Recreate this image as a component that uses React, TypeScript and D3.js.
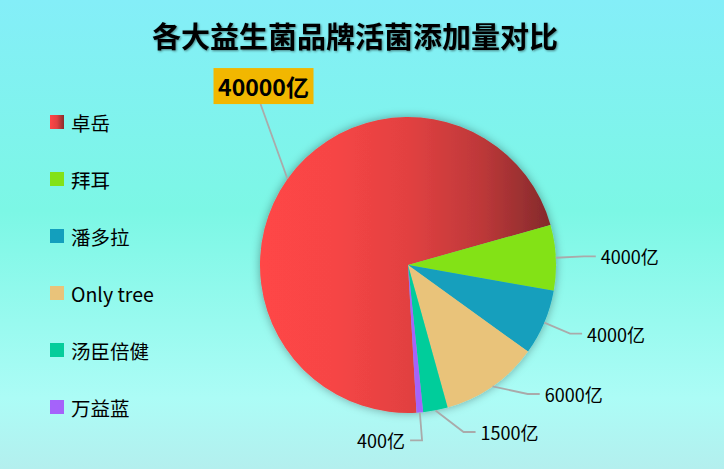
import { useEffect } from 'react';
import * as d3 from 'd3';

// chart data
const title = '各大益生菌品牌活菌添加量对比';
const brands = ['卓岳', '拜耳', '潘多拉', 'Only tree', '汤臣倍健', '万益蓝'];
const amounts = [40000, 4000, 4000, 6000, 1500, 400];
const unit = '亿';

// styling
const sliceColors = ['url(#redGrad)', '#83e217', '#139fbd', '#e9c37a', '#05cd9b', '#a563fa'];
const legendColors = ['url(#redIcon)', '#83e217', '#139fbd', '#e9c37a', '#05cd9b', '#a563fa'];
const FONT = '"Noto Sans CJK SC", "Noto Sans", sans-serif';

const W = 724;
const H = 469;
const cx = 408;
const cy = 265;
const r = 148;
const START = (176.7 * Math.PI) / 180;

export default function App() {
  useEffect(() => {
    document.body.style.margin = '0';
  }, []);

  const arcs = d3
    .pie<number>()
    .sort(null)
    .startAngle(START)
    .endAngle(START + Math.PI * 2)(amounts);

  const arcGen = d3.arc<d3.PieArcDatum<number>>().innerRadius(0).outerRadius(r);

  // label layout: radial elbow, then push right-side labels apart (like echarts)
  const R = r + 28;
  const pts = arcs.map((a, i) => {
    const mid = (a.startAngle + a.endAngle) / 2;
    const sx = Math.sin(mid);
    const cy0 = -Math.cos(mid);
    return {
      i,
      mid,
      edge: [cx + r * sx, cy + r * cy0] as [number, number],
      elbow: [cx + R * sx, cy + R * cy0] as [number, number],
      right: sx > 0.1,
    };
  });

  const rightPts = pts.filter((p) => p.right && p.i !== 0).sort((a, b) => a.elbow[1] - b.elbow[1]);
  const bottom = cy + r + 19;
  const gap = 38;
  for (let k = rightPts.length - 1; k >= 0; k--) {
    const limit = k === rightPts.length - 1 ? bottom : rightPts[k + 1].elbow[1] - gap;
    const y = Math.min(rightPts[k].elbow[1], limit);
    const dy = y - cy;
    rightPts[k].elbow = [cx + Math.sqrt(Math.max(R * R - dy * dy, 0)), y];
  }
  pts.forEach((p) => {
    if (!p.right && p.i !== 0) {
      p.elbow = [p.elbow[0], Math.min(p.elbow[1], cy + r + 29)];
    }
  });

  const legendY = d3.scalePoint<string>().domain(brands).range([122, 407]);

  const big = pts[0];
  const bigAnchor: [number, number] = [big.edge[0] - 27, big.edge[1] - 75];
  const boxW = 100;
  const boxH = 36;

  return (
    <svg width={W} height={H} style={{ display: 'block' }} fontFamily={FONT}>
      <defs>
        <linearGradient id="bg" x1="0" y1="0" x2="0" y2="1">
          <stop offset="0" stopColor="#84eef8" />
          <stop offset="0.45" stopColor="#7cf7e5" />
          <stop offset="0.85" stopColor="#acfcf6" />
          <stop offset="1" stopColor="#b3efee" />
        </linearGradient>
        <linearGradient id="redGrad" gradientUnits="userSpaceOnUse" x1={-r} y1={0} x2={r} y2={0}>
          <stop offset="0" stopColor="#ff4646" />
          <stop offset="0.25" stopColor="#f64545" />
          <stop offset="0.5" stopColor="#e24141" />
          <stop offset="0.75" stopColor="#bd3839" />
          <stop offset="1" stopColor="#7f292a" />
        </linearGradient>
        <linearGradient id="redIcon" x1="0" y1="0" x2="1" y2="0">
          <stop offset="0" stopColor="#ff4646" />
          <stop offset="0.5" stopColor="#e24141" />
          <stop offset="1" stopColor="#8a2c2d" />
        </linearGradient>
        <filter id="pieShadow" x="-20%" y="-20%" width="140%" height="140%">
          <feDropShadow dx="0" dy="0" stdDeviation="5" floodColor="#000" floodOpacity="0.35" />
        </filter>
        <filter id="titleShadow" x="-5%" y="-20%" width="110%" height="150%">
          <feDropShadow dx="1" dy="1" stdDeviation="0.8" floodColor="#000" floodOpacity="0.45" />
        </filter>
      </defs>

      <rect x={0} y={0} width={W} height={H} fill="url(#bg)" />

      <text
        x={355}
        y={35}
        textAnchor="middle"
        dominantBaseline="central"
        fontSize={29}
        fontWeight="bold"
        fill="#000"
        filter="url(#titleShadow)"
      >
        {title}
      </text>

      {/* legend */}
      {brands.map((b, i) => (
        <g key={b} transform={`translate(50,${legendY(b)})`}>
          <rect x={0} y={-7} width={14} height={14} fill={legendColors[i]} />
          <text x={21} y={0} dominantBaseline="central" fontSize={19.5} fill="#000">
            {b}
          </text>
        </g>
      ))}

      {/* pie */}
      <g filter="url(#pieShadow)" transform={`translate(${cx},${cy})`}>
        {arcs.map((a, i) => (
          <path key={brands[i]} d={arcGen(a) || ''} fill={sliceColors[i]} />
        ))}
      </g>

      {/* label lines and labels */}
      {pts.map((p) => {
        const text = `${amounts[p.i]}${unit}`;
        if (p.i === 0) {
          return (
            <g key="big">
              <polyline
                points={`${p.edge[0]},${p.edge[1]} ${bigAnchor[0]},${bigAnchor[1]}`}
                fill="none"
                stroke="#aaa"
                strokeWidth={1.8}
              />
              <rect
                x={bigAnchor[0] - boxW / 2 + 3}
                y={bigAnchor[1] - boxH}
                width={boxW}
                height={boxH}
                fill="#f2b700"
              />
              <text
                x={bigAnchor[0] + 3}
                y={bigAnchor[1] - boxH / 2}
                textAnchor="middle"
                dominantBaseline="central"
                fontSize={23}
                fontWeight="bold"
                fill="#000"
              >
                {text}
              </text>
            </g>
          );
        }
        const dir = p.right ? 1 : -1;
        const end: [number, number] = [p.elbow[0] + dir * 12, p.elbow[1]];
        return (
          <g key={brands[p.i]}>
            <polyline
              points={`${p.edge[0]},${p.edge[1]} ${p.elbow[0]},${p.elbow[1]} ${end[0]},${end[1]}`}
              fill="none"
              stroke="#aaa"
              strokeWidth={1.8}
            />
            <text
              x={end[0] + dir * 5}
              y={end[1]}
              textAnchor={p.right ? 'start' : 'end'}
              dominantBaseline="central"
              fontSize={18}
              fill="#000"
            >
              {text}
            </text>
          </g>
        );
      })}
    </svg>
  );
}
